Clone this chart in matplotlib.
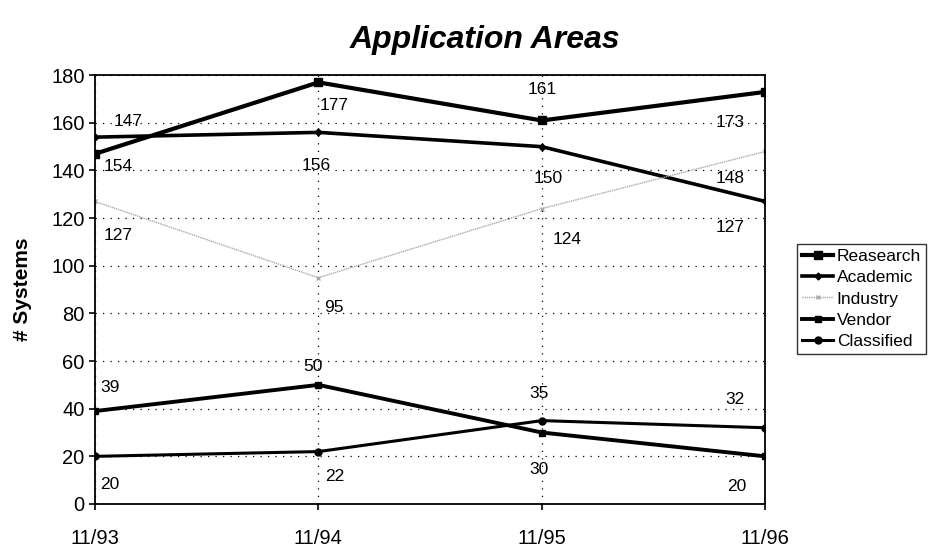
import numpy as np
import matplotlib
matplotlib.use('Agg')
import matplotlib.pyplot as plt

plt.rcParams['font.family'] = ['Liberation Sans', 'DejaVu Sans']

# data
dates = ['11/93', '11/94', '11/95', '11/96']
research = [147, 177, 161, 173]
academic = [154, 156, 150, 127]
industry = [127, 95, 124, 148]
vendor = [39, 50, 30, 20]
classified = [20, 22, 35, 32]

series = [
	('Reasearch', research, dict(color='black', lw=3.0, marker='s', ms=5.5)),
	('Academic', academic, dict(color='black', lw=2.6, marker='D', ms=3.5)),
	('Industry', industry, dict(color='#a8a8a8', lw=1.0, ls=(0, (1, 0.6)), marker='x', ms=3.5)),
	('Vendor', vendor, dict(color='black', lw=2.8, marker='s', ms=5)),
	('Classified', classified, dict(color='black', lw=2.2, marker='o', ms=5)),
]

# label offsets in pixels (dx, dy) per series and point
offsets = {
	'Reasearch': [(33, 32), (16, -23), (0, 31), (-35, -31)],
	'Academic': [(23, -29), (-2, -33), (6, -32), (-35, -26)],
	'Industry': [(23, -34), (15, -30), (25, -31), (-35, -27)],
	'Vendor': [(15, 24), (-5, 18), (-3, -37), (-29, -30)],
	'Classified': [(15, -28), (16, -25), (-3, 27), (-30, 28)],
}

fig = plt.figure(figsize=(9.31, 5.49), dpi=100)
ax = fig.add_axes([0.102, 0.082, 0.72, 0.781])

x = np.arange(len(dates))
for name, vals, style in series:
	ax.plot(x, vals, label=name, **style)
	for i, v in enumerate(vals):
		dx, dy = offsets[name][i]
		ax.annotate(str(v), (x[i], v), xytext=(dx, dy), textcoords='offset pixels',
			ha='center', va='center', fontsize=12.5)

ax.set_xlim(0, 3)
ax.set_ylim(0, 180)
ax.set_yticks(range(0, 181, 20))
ax.set_xticks(x)
ax.set_xticklabels(dates)
ax.tick_params(axis='both', labelsize=14.5, direction='out', length=4, width=1.2)
ax.tick_params(axis='x', pad=14)

ax.grid(True, color='black', ls=(0, (1, 5)), lw=0.9)
for s in ax.spines.values():
	s.set_linewidth(1.3)

ax.set_ylabel('# Systems', fontsize=15, fontweight='bold', labelpad=14)
fig.text(0.521, 0.928, 'Application Areas', ha='center', va='center',
	fontsize=23, fontweight='bold', style='italic')

leg = fig.legend(loc='upper left', bbox_to_anchor=(0.856, 0.556), fontsize=12.5,
	frameon=True, fancybox=False, edgecolor='black', handlelength=1.8,
	handletextpad=0.2, borderpad=0.3, labelspacing=0.35, borderaxespad=0)
leg.get_frame().set_linewidth(1.0)

fig.savefig('out.png', dpi=100)
